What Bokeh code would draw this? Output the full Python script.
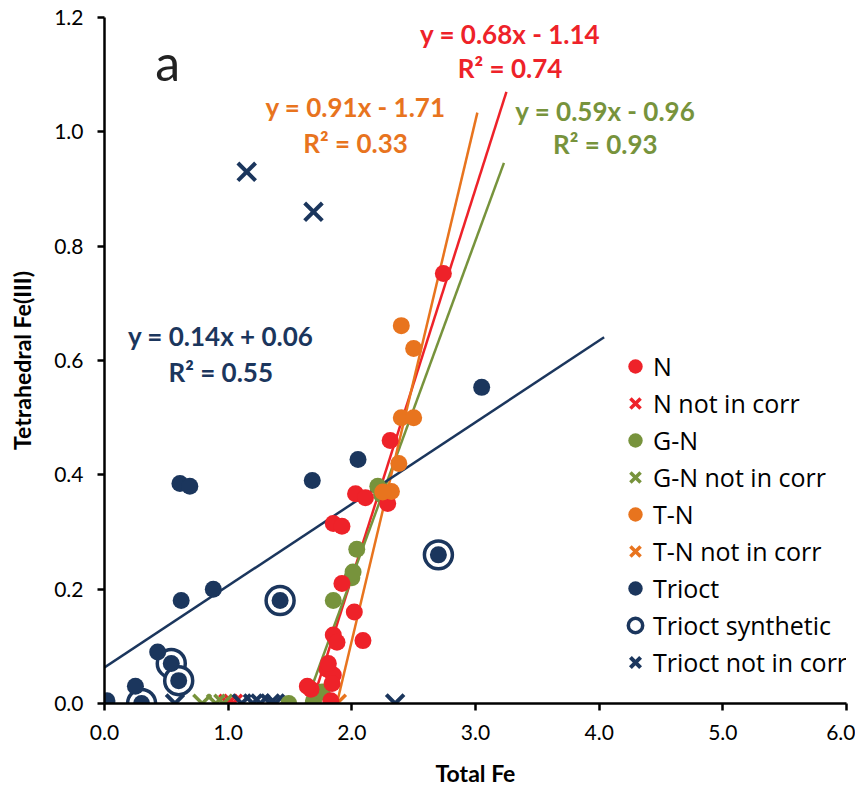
from bokeh.plotting import figure
from bokeh.models import Legend, LegendItem, Label, Range1d, FixedTicker, NumeralTickFormatter
from bokeh.embed import file_html
from bokeh.resources import INLINE

# ---------------- data ----------------
n_x = [2.74, 2.31, 2.03, 2.11, 2.29, 1.85, 1.92, 1.92, 2.02, 1.85, 1.88, 2.09, 1.80, 1.85, 1.84, 1.67, 1.83, 1.64, 1.81]
n_y = [0.752, 0.46, 0.367, 0.36, 0.35, 0.315, 0.31, 0.21, 0.16, 0.12, 0.107, 0.11, 0.06, 0.05, 0.035, 0.025, 0.005, 0.03, 0.07]
n_nc_x = [1.00, 1.04]
n_nc_y = [0.0, 0.0]

gn_x = [1.49, 1.69, 1.76, 1.85, 2.00, 2.01, 2.04, 2.21, 2.24]
gn_y = [0.0, 0.005, 0.02, 0.18, 0.22, 0.23, 0.27, 0.38, 0.365]
gn_nc_x = [0.79, 0.90, 0.96]
gn_nc_y = [0.0, 0.0, 0.0]

tn_x = [2.40, 2.50, 2.40, 2.50, 2.38, 2.32, 2.25]
tn_y = [0.661, 0.621, 0.50, 0.50, 0.42, 0.371, 0.37]
tn_nc_x = [1.88]
tn_nc_y = [0.0]

tr_x = [0.02, 0.25, 0.30, 0.43, 0.54, 0.60, 0.61, 0.69, 0.62, 0.88, 1.42, 1.68, 2.05, 2.70, 3.05]
tr_y = [0.005, 0.03, 0.0, 0.09, 0.07, 0.04, 0.385, 0.38, 0.18, 0.20, 0.18, 0.39, 0.427, 0.26, 0.553]
syn_x = [0.30, 0.54, 0.60, 1.42, 2.70]
syn_y = [0.0, 0.07, 0.04, 0.18, 0.26]
tr_nc_x = [1.15, 1.69, 0.57, 1.11, 1.20, 1.26, 1.34, 1.38, 2.35]
tr_nc_y = [0.93, 0.86, 0.0, 0.0, 0.0, 0.0, 0.0, 0.0, 0.0]

x_ticks = [0.0, 1.0, 2.0, 3.0, 4.0, 5.0, 6.0]
y_ticks = [0.0, 0.2, 0.4, 0.6, 0.8, 1.0, 1.2]

# trend lines: slope, intercept, x start, x end
fit_names = ["N", "G-N", "T-N", "Trioct"]
fit_slope = [0.68, 0.59, 0.91, 0.143]
fit_icpt = [-1.14, -0.96, -1.71, 0.063]
fit_x0 = [1.676, 1.627, 1.879, 0.0]
fit_x1 = [3.25, 3.23, 3.015, 4.04]

eq_text = ["y = 0.68x - 1.14", "y = 0.59x - 0.96", "y = 0.91x - 1.71", "y = 0.14x + 0.06"]
r2_text = ["R² = 0.74", "R² = 0.93", "R² = 0.33", "R² = 0.55"]
eq_x = [3.28, 4.05, 2.03, 0.94]
eq_y = [1.172, 1.037, 1.043, 0.642]
r2_y = [1.111, 0.978, 0.981, 0.580]

RED = "#EE2229"
GREEN = "#77933C"
ORANGE = "#E8741E"
NAVY = "#1B365D"
colors = [RED, GREEN, ORANGE, NAVY]

FONT = "Lato"

p = figure(width=855, height=790, output_backend="svg", toolbar_location=None,
           x_range=Range1d(0, 6), y_range=Range1d(0, 1.2),
           min_border_left=104, min_border_right=9, min_border_top=17, min_border_bottom=87)
p.outline_line_color = None
p.grid.visible = False

for ax in (p.xaxis[0], p.yaxis[0]):
    ax.axis_line_width = 2.5
    ax.axis_line_color = "black"
    ax.major_tick_line_width = 2.5
    ax.major_tick_line_color = "black"
    ax.major_tick_out = 7
    ax.major_tick_in = 0
    ax.minor_tick_line_color = None
    ax.major_label_text_font = FONT
    ax.major_label_text_font_size = "21px"
    ax.major_label_text_color = "black"
    ax.axis_label_text_font = FONT
    ax.axis_label_text_font_style = "bold"
    ax.axis_label_text_font_size = "23px"
    ax.axis_label_text_color = "black"
    ax.formatter = NumeralTickFormatter(format="0.0")

p.xaxis[0].ticker = FixedTicker(ticks=x_ticks)
p.yaxis[0].ticker = FixedTicker(ticks=y_ticks)
p.xaxis[0].axis_label = "Total Fe"
p.yaxis[0].axis_label = "Tetrahedral Fe(III)"
p.xaxis[0].major_label_standoff = 14
p.yaxis[0].major_label_standoff = 14
p.xaxis[0].axis_label_standoff = 16
p.yaxis[0].axis_label_standoff = 15

# trend lines (drawn under markers)
for s, b, x0, x1, c in zip(fit_slope, fit_icpt, fit_x0, fit_x1, colors):
    p.line([x0, x1], [s * x0 + b, s * x1 + b], line_color=c, line_width=2.5)

MS = 17
XS = 25
r_nnc = p.scatter(n_nc_x, n_nc_y, marker="x", size=XS, line_color=RED, line_width=3.5)
r_gnnc = p.scatter(gn_nc_x, gn_nc_y, marker="x", size=XS, line_color=GREEN, line_width=3.5)
r_tnnc = p.scatter(tn_nc_x, tn_nc_y, marker="x", size=XS, line_color=ORANGE, line_width=3.5)
r_trnc = p.scatter(tr_nc_x, tr_nc_y, marker="x", size=XS, line_color=NAVY, line_width=4)
r_syn = p.scatter(syn_x, syn_y, marker="circle", size=28, fill_color="white", line_color=NAVY, line_width=3.5)
r_tr = p.scatter(tr_x, tr_y, marker="circle", size=MS, fill_color=NAVY, line_color=None)
r_gn = p.scatter(gn_x, gn_y, marker="circle", size=MS, fill_color=GREEN, line_color=None)
r_n = p.scatter(n_x, n_y, marker="circle", size=MS, fill_color=RED, line_color=None)
r_tn = p.scatter(tn_x, tn_y, marker="circle", size=MS, fill_color=ORANGE, line_color=None)

legend = Legend(items=[
    LegendItem(label="N", renderers=[r_n]),
    LegendItem(label="N not in corr", renderers=[r_nnc]),
    LegendItem(label="G-N", renderers=[r_gn]),
    LegendItem(label="G-N not in corr", renderers=[r_gnnc]),
    LegendItem(label="T-N", renderers=[r_tn]),
    LegendItem(label="T-N not in corr", renderers=[r_tnnc]),
    LegendItem(label="Trioct", renderers=[r_tr]),
    LegendItem(label="Trioct synthetic", renderers=[r_syn]),
    LegendItem(label="Trioct not in corr", renderers=[r_trnc]),
], location=(513, 23))
legend.background_fill_alpha = 0
legend.border_line_color = None
legend.padding = 0
legend.margin = 0
legend.spacing = 1
legend.glyph_width = 36
legend.glyph_height = 36
legend.label_height = 36
legend.label_standoff = 0
legend.label_text_font = "Open Sans"
legend.label_text_font_size = "25px"
legend.label_text_color = "black"
p.add_layout(legend, "center")

for t, r, x, y, y2, c in zip(eq_text, r2_text, eq_x, eq_y, r2_y, colors):
    p.add_layout(Label(x=x, y=y, text=t, text_color=c, text_font=FONT, text_font_style="bold",
                       text_font_size="26px", text_align="center", text_baseline="middle"))
    p.add_layout(Label(x=x, y=y2, text=r, text_color=c, text_font=FONT, text_font_style="bold",
                       text_font_size="26px", text_align="center", text_baseline="middle"))

p.add_layout(Label(x=0.51, y=1.122, text="a", text_color="#222222", text_font=FONT,
                   text_font_size="50px", text_align="center", text_baseline="middle"))

open("out.html", "w").write(file_html(p, INLINE))
